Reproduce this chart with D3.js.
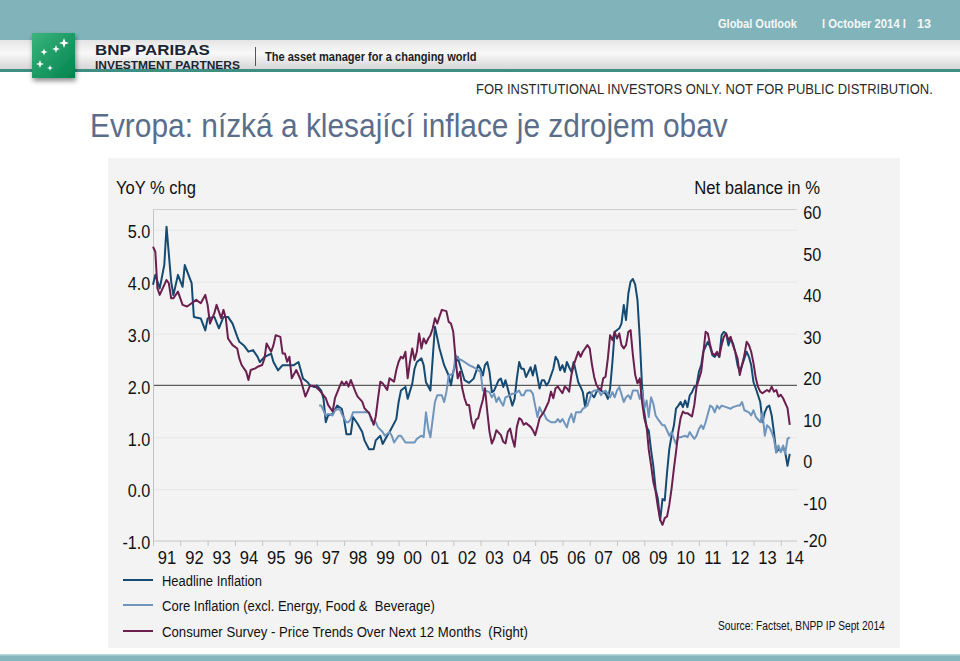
<!DOCTYPE html>
<html><head><meta charset="utf-8">
<script src="https://cdn.jsdelivr.net/npm/d3@7"></script>
<style>
body{margin:0;background:#fff;}
svg{display:block;font-family:"Liberation Sans",Arial,sans-serif;}
text{white-space:pre;}
</style></head><body>
<svg id="c" width="960" height="661"></svg>
<script>
// ---------------- DATA ----------------
const yearLabels = ["91","92","93","94","95","96","97","98","99","00","01","02","03","04","05","06","07","08","09","10","11","12","13","14"];
const leftTicks = [-1, 0, 1, 2, 3, 4, 5];
const rightTicks = [-20, -10, 0, 10, 20, 30, 40, 50, 60];
const seriesNames = ["Headline Inflation", "Core Inflation (excl. Energy, Food &  Beverage)", "Consumer Survey - Price Trends Over Next 12 Months  (Right)"];

const headline = [["1991-01",3.94],["1991-02",4.13],["1991-04",3.87],["1991-06",4.32],["1991-07",5.06],["1991-09",4.00],["1991-10",3.74],["1991-12",4.13],
["1992-02",3.90],["1992-03",4.32],["1992-06",3.97],["1992-07",3.32],["1992-10",3.29],["1992-12",3.06],["1993-01",3.29],["1993-04",3.32],["1993-06",3.10],
["1993-08",3.32],["1993-10",3.32],["1993-12",3.19],["1994-02",2.94],["1994-03",2.84],["1994-05",2.77],["1994-07",2.65],["1994-09",2.68],["1994-11",2.55],
["1994-12",2.45],["1995-02",2.55],["1995-05",2.61],["1995-06",2.45],["1995-08",2.29],["1995-10",2.39],["1996-03",2.39],["1996-05",2.45],["1996-07",2.13],
["1996-09",2.06],["1996-10",2.00],["1996-12",1.97],["1997-01",2.00],["1997-03",1.90],["1997-04",1.74],["1997-05",1.29],["1997-06",1.42],["1997-08",1.45],
["1997-10",1.61],["1997-12",1.55],["1998-01",1.35],["1998-02",1.06],["1998-04",1.06],["1998-05",1.39],["1998-07",1.26],["1998-09",1.10],["1998-10",0.94],
["1998-12",0.77],["1999-02",0.77],["1999-03",0.94],["1999-05",1.03],["1999-06",0.87],["1999-08",1.03],["1999-09",1.10],["1999-12",1.35],["2000-01",1.68],
["2000-02",1.90],["2000-04",1.97],["2000-05",1.74],["2000-07",2.03],["2000-08",2.32],["2000-09",2.45],["2000-11",2.52],["2000-12",2.39],["2001-01",2.06],
["2001-03",1.90],["2001-04",2.52],["2001-05",3.13],["2001-07",2.71],["2001-09",2.39],["2001-11",2.19],["2001-12",2.00],["2002-01",2.26],["2002-03",2.55],
["2002-04",2.39],["2002-06",2.10],["2002-08",2.05],["2002-10",2.13],["2002-11",2.26],["2002-12",2.39],["2003-01",2.32],["2003-02",2.19],["2003-03",2.39],
["2003-04",2.45],["2003-05",2.26],["2003-06",1.87],["2003-07",1.90],["2003-08",2.00],["2003-09",2.10],["2003-10",2.13],["2003-11",1.97],["2003-12",2.10],
["2004-02",1.77],["2004-03",1.61],["2004-04",1.74],["2004-05",2.13],["2004-06",2.45],["2004-07",2.32],["2004-08",2.32],["2004-09",2.16],["2004-11",2.35],
["2004-12",2.19],["2005-01",2.39],["2005-02",2.16],["2005-03",1.94],["2005-04",2.10],["2005-05",2.10],["2005-06",2.00],["2005-07",2.06],["2005-08",2.19],
["2005-09",2.32],["2005-10",2.55],["2005-11",2.48],["2005-12",2.29],["2006-01",2.39],["2006-02",2.26],["2006-03",2.45],["2006-04",2.35],["2006-05",2.26],
["2006-06",2.45],["2006-07",2.26],["2006-08",2.06],["2006-09",1.97],["2006-10",1.87],["2006-11",1.58],["2006-12",1.84],["2007-01",1.87],["2007-03",1.77],
["2007-04",1.87],["2007-05",1.94],["2007-06",1.90],["2007-08",1.84],["2007-09",1.74],["2007-10",1.94],["2007-11",2.45],["2007-12",3.03],["2008-02",3.10],
["2008-03",3.19],["2008-04",3.55],["2008-05",3.26],["2008-06",3.77],["2008-07",4.00],["2008-08",4.05],["2008-09",3.94],["2008-10",3.65],["2008-11",2.90],
["2008-12",2.00],["2009-01",1.48],["2009-02",1.19],["2009-03",1.13],["2009-04",0.75],["2009-05",0.45],["2009-06",0.00],["2009-07",-0.19],["2009-08",-0.60],
["2009-09",-0.19],["2009-10",-0.22],["2009-11",0.32],["2009-12",0.77],["2010-01",1.03],["2010-02",1.23],["2010-03",1.55],["2010-04",1.61],["2010-05",1.68],
["2010-06",1.58],["2010-07",1.71],["2010-08",1.58],["2010-09",1.81],["2010-10",1.87],["2010-11",1.97],["2010-12",2.00],["2011-01",2.26],["2011-02",2.39],
["2011-03",2.65],["2011-04",2.75],["2011-05",2.84],["2011-06",2.74],["2011-07",2.58],["2011-08",2.55],["2011-09",2.61],["2011-10",2.55],["2011-11",2.97],
["2011-12",3.03],["2012-01",3.00],["2012-02",2.77],["2012-03",2.90],["2012-04",2.81],["2012-05",2.65],["2012-06",2.39],["2012-07",2.26],["2012-09",2.52],
["2012-10",2.65],["2012-11",2.55],["2012-12",2.39],["2013-01",2.06],["2013-02",1.94],["2013-04",1.68],["2013-05",1.29],["2013-06",1.48],["2013-07",1.58],
["2013-08",1.61],["2013-09",1.42],["2013-10",1.10],["2013-11",0.71],["2013-12",0.77],["2014-01",0.74],["2014-02",0.81],["2014-03",0.71],["2014-04",0.45],
["2014-05",0.68]];

const core = [["1997-02",1.61],["1997-03",1.61],["1997-05",1.42],["1997-06",1.45],["1997-08",1.42],["1997-09",1.52],["1997-11",1.55],["1997-12",1.45],
["1998-02",1.29],["1998-03",1.29],["1998-04",1.35],["1998-05",1.48],["1998-07",1.48],["1998-10",1.48],["1998-12",1.48],["1999-01",1.32],["1999-03",1.29],
["1999-04",1.19],["1999-06",1.10],["1999-07",1.03],["1999-09",1.10],["1999-10",1.03],["1999-11",0.90],["2000-01",1.03],["2000-02",1.03],["2000-04",0.90],
["2000-06",0.90],["2000-08",0.90],["2000-09",0.97],["2000-11",1.03],["2000-12",1.00],["2001-01",1.48],["2001-02",1.16],["2001-03",1.00],["2001-04",1.35],
["2001-05",1.68],["2001-06",1.81],["2001-08",1.81],["2001-09",1.68],["2001-10",1.87],["2001-11",2.19],["2002-01",2.23],["2002-02",2.58],["2002-03",2.52],
["2002-05",2.48],["2002-06",2.45],["2002-08",2.39],["2002-10",2.35],["2002-11",2.32],["2003-01",2.26],["2003-02",1.90],["2003-03",1.90],["2003-05",1.87],
["2003-06",1.77],["2003-07",1.84],["2003-08",1.68],["2003-09",1.77],["2003-10",1.68],["2003-11",1.61],["2003-12",1.77],["2004-02",1.81],["2004-03",1.84],
["2004-04",1.84],["2004-06",1.90],["2004-07",1.81],["2004-08",1.81],["2004-09",1.90],["2004-11",1.90],["2004-12",1.84],["2005-01",1.61],["2005-02",1.39],
["2005-03",1.58],["2005-04",1.48],["2005-05",1.45],["2005-06",1.35],["2005-08",1.29],["2005-10",1.29],["2005-11",1.35],["2005-12",1.29],["2006-01",1.35],
["2006-03",1.19],["2006-04",1.35],["2006-05",1.45],["2006-06",1.29],["2006-07",1.48],["2006-09",1.48],["2006-10",1.55],["2006-12",1.61],["2007-01",1.74],
["2007-02",1.87],["2007-03",1.90],["2007-05",1.90],["2007-06",1.81],["2007-07",1.87],["2007-08",1.90],["2007-10",1.77],["2007-11",1.87],["2007-12",1.77],
["2008-01",1.90],["2008-02",1.97],["2008-04",1.68],["2008-05",1.77],["2008-06",1.81],["2008-07",1.74],["2008-08",1.90],["2008-09",1.90],["2008-10",1.90],
["2008-11",1.74],["2008-12",1.90],["2009-01",1.55],["2009-02",1.71],["2009-03",1.39],["2009-04",1.77],["2009-05",1.65],["2009-06",1.42],["2009-07",1.35],
["2009-08",1.29],["2009-09",1.23],["2009-10",1.23],["2009-11",1.13],["2009-12",1.03],["2010-01",1.10],["2010-02",0.97],["2010-03",0.87],["2010-04",1.00],
["2010-05",1.00],["2010-07",1.03],["2010-08",1.00],["2010-09",1.10],["2010-10",1.03],["2010-11",0.97],["2010-12",1.03],["2011-01",1.16],["2011-02",1.23],
["2011-03",1.16],["2011-04",1.29],["2011-05",1.45],["2011-06",1.61],["2011-07",1.58],["2011-08",1.48],["2011-09",1.61],["2011-10",1.55],["2011-11",1.61],
["2012-01",1.58],["2012-03",1.55],["2012-04",1.58],["2012-06",1.61],["2012-07",1.61],["2012-08",1.68],["2012-09",1.52],["2012-11",1.48],["2012-12",1.42],
["2013-01",1.52],["2013-02",1.39],["2013-04",1.29],["2013-05",1.48],["2013-06",1.03],["2013-07",1.23],["2013-08",1.19],["2013-09",1.10],["2013-10",0.97],
["2013-11",0.71],["2013-12",0.84],["2014-01",0.71],["2014-02",0.84],["2014-03",0.68],["2014-04",0.97],["2014-05",1.00]];

const consumer = [["1991-01",50.9],["1991-02",49.7],["1991-03",40.9],["1991-04",39.3],["1991-06",41.7],["1991-07",42.9],["1991-08",42.1],["1991-09",38.5],
["1991-10",38.5],["1991-12",40.1],["1992-02",36.9],["1992-04",36.5],["1992-06",37.3],["1992-08",38.1],["1992-10",37.3],["1992-12",39.3],["1993-01",36.9],
["1993-02",32.4],["1993-04",34.9],["1993-05",36.9],["1993-07",33.7],["1993-08",35.7],["1993-09",33.7],["1993-10",28.8],["1993-12",27.2],["1994-02",26.4],
["1994-03",24.0],["1994-04",22.4],["1994-06",20.8],["1994-07",18.8],["1994-08",21.2],["1994-10",21.6],["1994-11",22.0],["1995-01",22.4],["1995-02",24.0],
["1995-03",27.6],["1995-05",25.6],["1995-06",27.2],["1995-07",29.6],["1995-09",29.2],["1995-10",25.2],["1995-11",25.2],["1995-12",23.2],["1996-01",24.4],
["1996-02",19.2],["1996-04",21.2],["1996-06",18.8],["1996-08",14.8],["1996-10",17.4],["1996-12",17.4],["1997-02",16.4],["1997-05",14.4],["1997-06",12.8],
["1997-08",11.2],["1997-09",14.4],["1997-11",17.2],["1997-12",18.4],["1998-01",17.6],["1998-02",18.4],["1998-03",17.2],["1998-04",18.8],["1998-06",16.0],
["1998-07",14.8],["1998-09",13.6],["1998-10",12.0],["1998-12",10.8],["1999-01",9.6],["1999-02",8.0],["1999-03",10.0],["1999-04",14.4],["1999-05",18.4],
["1999-06",18.0],["1999-08",16.4],["1999-09",19.2],["1999-11",18.4],["1999-12",21.2],["2000-01",23.2],["2000-02",24.4],["2000-03",24.0],["2000-04",25.6],
["2000-05",19.2],["2000-06",23.2],["2000-07",26.4],["2000-08",23.6],["2000-09",25.6],["2000-10",30.0],["2000-11",26.4],["2000-12",28.8],["2001-01",27.6],
["2001-02",28.8],["2001-03",29.6],["2001-04",31.2],["2001-05",33.7],["2001-06",32.4],["2001-07",34.1],["2001-08",35.7],["2001-10",35.4],["2001-11",32.8],
["2001-12",32.4],["2002-01",30.4],["2002-02",24.0],["2002-03",19.2],["2002-04",20.8],["2002-05",16.8],["2002-06",14.4],["2002-07",12.8],["2002-08",12.8],
["2002-09",9.0],["2002-10",7.1],["2002-11",9.2],["2002-12",9.6],["2003-01",12.0],["2003-02",14.0],["2003-03",16.8],["2003-04",11.2],["2003-05",6.3],
["2003-06",3.5],["2003-07",4.7],["2003-08",6.7],["2003-10",5.5],["2003-11",3.9],["2003-12",3.5],["2004-01",6.3],["2004-02",7.1],["2004-03",4.7],
["2004-04",2.7],["2004-05",7.5],["2004-06",9.6],["2004-07",9.2],["2004-08",8.0],["2004-09",8.4],["2004-11",7.5],["2004-12",6.7],["2005-01",5.5],
["2005-02",7.5],["2005-03",9.6],["2005-04",10.4],["2005-05",11.2],["2005-06",12.4],["2005-07",13.6],["2005-08",16.0],["2005-09",14.4],["2005-10",16.8],
["2005-11",17.2],["2005-12",16.4],["2006-01",15.6],["2006-02",17.2],["2006-03",16.8],["2006-04",16.0],["2006-05",20.0],["2006-06",22.4],["2006-07",24.0],
["2006-08",25.6],["2006-09",24.4],["2006-10",25.6],["2006-12",27.2],["2007-01",26.4],["2007-02",22.4],["2007-03",19.6],["2007-04",17.6],["2007-05",16.8],
["2007-06",16.4],["2007-07",19.2],["2007-08",19.6],["2007-09",24.0],["2007-10",29.6],["2007-11",28.4],["2007-12",30.4],["2008-01",28.8],["2008-02",30.0],
["2008-03",27.2],["2008-04",26.4],["2008-05",27.2],["2008-06",30.4],["2008-07",30.8],["2008-08",24.8],["2008-09",20.0],["2008-10",18.0],["2008-11",19.2],
["2008-12",13.6],["2009-01",9.6],["2009-02",7.5],["2009-03",2.0],["2009-04",-1.7],["2009-05",-5.7],["2009-06",-8.1],["2009-07",-11.7],["2009-08",-14.9],
["2009-09",-16.1],["2009-10",-14.5],["2009-11",-14.1],["2009-12",-11.3],["2010-01",-7.3],["2010-02",-2.5],["2010-03",1.5],["2010-04",6.3],["2010-05",9.6],
["2010-06",11.2],["2010-07",10.8],["2010-08",10.8],["2010-09",10.4],["2010-10",10.0],["2010-11",12.8],["2010-12",17.2],["2011-02",20.8],["2011-03",25.2],
["2011-04",30.4],["2011-05",30.0],["2011-06",27.2],["2011-07",25.2],["2011-08",24.8],["2011-09",25.6],["2011-10",24.4],["2011-11",27.2],["2011-12",29.2],
["2012-01",30.0],["2012-02",28.4],["2012-03",29.2],["2012-04",27.2],["2012-05",25.6],["2012-06",24.0],["2012-07",20.0],["2012-08",22.4],["2012-09",24.8],
["2012-10",28.0],["2012-11",27.2],["2012-12",25.6],["2013-01",22.8],["2013-02",19.2],["2013-03",17.2],["2013-04",16.0],["2013-05",15.6],["2013-07",16.4],
["2013-08",16.0],["2013-09",17.2],["2013-10",16.0],["2013-11",16.4],["2013-12",14.8],["2014-01",15.2],["2014-02",14.4],["2014-04",12.0],["2014-05",8.0]];

// ---------------- DRAW ----------------
const svg = d3.select("#c");
const defs = svg.append("defs");
const parse = d3.timeParse("%Y-%m");
const colors = ["#154a72", "#6f95bd", "#6b1f4f"];

// header
const g1 = defs.append("linearGradient").attr("id","band").attr("x1",0).attr("y1",0).attr("x2",0).attr("y2",1);
g1.append("stop").attr("offset","0").attr("stop-color","#e4e4e4");
g1.append("stop").attr("offset","0.45").attr("stop-color","#f9f9f9");
g1.append("stop").attr("offset","1").attr("stop-color","#d6d6d6");
const g2 = defs.append("linearGradient").attr("id","logo").attr("x1",0).attr("y1",0).attr("x2",1).attr("y2",1);
g2.append("stop").attr("offset","0").attr("stop-color","#3cb47c");
g2.append("stop").attr("offset","1").attr("stop-color","#00834f");
const sh = defs.append("filter").attr("id","shadow").attr("x","-30%").attr("y","-30%").attr("width","160%").attr("height","170%");
sh.append("feDropShadow").attr("dx",1).attr("dy",3).attr("stdDeviation",2.5).attr("flood-color","#000").attr("flood-opacity",0.45);

svg.append("rect").attr("x",0).attr("y",0).attr("width",960).attr("height",40).attr("fill","#80b3ba");
svg.append("rect").attr("x",0).attr("y",40).attr("width",960).attr("height",29).attr("fill","url(#band)");
svg.append("rect").attr("x",0).attr("y",69).attr("width",960).attr("height",3).attr("fill","#3f8e82");

svg.append("rect").attr("x",32).attr("y",33).attr("width",43).attr("height",45).attr("fill","url(#logo)").attr("filter","url(#shadow)");
const star = "M0,-5 L1.3,-1.3 L5,0 L1.3,1.3 L0,5 L-1.3,1.3 L-5,0 L-1.3,-1.3Z";
[[64,43,1],[56,49,0.8],[44,52,0.7],[40,64,0.8],[50,68,0.6]].forEach(s=>{
  svg.append("path").attr("d",star).attr("fill","#fff").attr("transform",`translate(${s[0]},${s[1]}) scale(${s[2]})`);
});

// text helper: condenses a text to a target width with a horizontal scale
function txt(s, x, y, size, len, opts={}) {
  const t = svg.append("text").attr("x",0).attr("y",0).attr("font-size",size)
    .attr("fill",opts.fill||"#222").attr("font-weight",opts.weight||"normal")
    .attr("text-anchor",opts.anchor||"start").text(s);
  const natural = t.node().getComputedTextLength();
  const sx = len && natural ? len / natural : 1;
  t.attr("transform",`translate(${x},${y}) scale(${sx.toFixed(4)},1)`);
  return t;
}
txt("Global Outlook",718,28,13,79,{fill:"#f4f7f7",weight:"bold"});
txt("l October 2014 l",822,28,13,84,{fill:"#f4f7f7",weight:"bold"});
txt("13",917,28,13,14,{fill:"#f4f7f7",weight:"bold"});
txt("BNP PARIBAS",95,55,15,115,{fill:"#1a2533",weight:"bold"});
txt("INVESTMENT PARTNERS",95,68.5,11,145,{fill:"#1a2533",weight:"bold"});
svg.append("line").attr("x1",255.5).attr("x2",255.5).attr("y1",47).attr("y2",66).attr("stroke","#555");
txt("The asset manager for a changing world",265,61,13,212,{fill:"#1e1e1e",weight:"bold"});
txt("FOR INSTITUTIONAL INVESTORS ONLY. NOT FOR PUBLIC DISTRIBUTION.",476,94,15,457,{fill:"#2a2a2a"});
txt("Evropa: nízká a klesající inflace je zdrojem obav",90,137,33,638,{fill:"#5a6e8b"});

// panel
svg.append("rect").attr("x",108).attr("y",158).attr("width",792).attr("height",490).attr("fill","#f3f3f3");
svg.append("rect").attr("x",0).attr("y",654).attr("width",960).attr("height",7).attr("fill","#86b6bd");
svg.append("rect").attr("x",0).attr("y",654).attr("width",960).attr("height",1.5).attr("fill","#b9d6da");

const X0 = 153, X1 = 797, YT = 209, YB = 541;
const x = d3.scaleTime().domain([new Date(1991,0,1), new Date(2014,7,6)]).range([X0, X1]);
const yL = d3.scaleLinear().domain([-1, 5.4]).range([YB, YT]);
const yR = d3.scaleLinear().domain([-20, 60]).range([YB, YT]);

// gridlines
svg.append("g").selectAll("line").data(leftTicks.filter(d=>d!==-1 && d!==2)).join("line")
  .attr("x1",X0).attr("x2",X1).attr("y1",d=>yL(d)+0.5).attr("y2",d=>yL(d)+0.5).attr("stroke","#e6e6e6");
svg.append("line").attr("x1",X0).attr("x2",X1).attr("y1",YT+0.5).attr("y2",YT+0.5).attr("stroke","#cfcfcf");
svg.append("line").attr("x1",X0).attr("x2",X1).attr("y1",yL(2)).attr("y2",yL(2)).attr("stroke","#5c5c5c").attr("stroke-width",1.2);

// axes
const axL = svg.append("g").attr("transform",`translate(${X0},0)`)
  .call(d3.axisLeft(yL).tickValues(leftTicks).tickFormat(d=>d.toFixed(1)).tickSize(0).tickPadding(3));
axL.select(".domain").attr("stroke","#c4c4c4");
axL.selectAll("text").attr("font-size",18).attr("fill","#111").attr("font-family","Liberation Sans, Arial, sans-serif")
  .attr("y",2).attr("transform","scale(0.9,1)");

const axR = svg.append("g").attr("transform",`translate(${X1},0)`)
  .call(d3.axisRight(yR).tickValues(rightTicks).tickFormat(d=>String(d)).tickSize(0).tickPadding(7));
axR.select(".domain").remove();
axR.selectAll("text").attr("font-size",18).attr("fill","#111").attr("font-family","Liberation Sans, Arial, sans-serif")
  .attr("y",d=>d===-20?0:4).attr("transform","scale(0.9,1)");

const axB = svg.append("g").attr("transform",`translate(0,${YB})`)
  .call(d3.axisBottom(x).ticks(d3.timeYear.every(1)).tickFormat("").tickSize(5));
axB.select(".domain").attr("stroke","#c4c4c4").attr("d",`M${X0},0H${X1}`);
axB.selectAll(".tick line").attr("stroke","#c4c4c4");

const midYears = yearLabels.map((s,i)=>new Date(1991+i,6,1));
const axB2 = svg.append("g").attr("transform",`translate(0,${YB})`)
  .call(d3.axisBottom(x).tickValues(midYears).tickFormat((d,i)=>yearLabels[i]).tickSize(0));
axB2.select(".domain").remove();
axB2.selectAll("text").attr("font-size",18).attr("fill","#111").attr("font-family","Liberation Sans, Arial, sans-serif")
  .attr("y",23).attr("dy",null).attr("transform","scale(0.92,1)");

// lines
const lineL = d3.line().x(d=>x(parse(d[0]))).y(d=>yL(d[1]));
const lineR = d3.line().x(d=>x(parse(d[0]))).y(d=>yR(d[1]));
const plot = svg.append("g").attr("fill","none").attr("stroke-width",2).attr("stroke-linejoin","round");
plot.append("path").attr("d",lineL(headline)).attr("stroke",colors[0]);
plot.append("path").attr("d",lineL(core)).attr("stroke",colors[1]);
plot.append("path").attr("d",lineR(consumer)).attr("stroke",colors[2]);

// axis titles
txt("YoY % chg",116,194,18,80,{fill:"#111"});
txt("Net balance in %",820,194,18,126,{fill:"#111",anchor:"end"});

// legend
const legY = [580, 605, 631];
const legLen = [100, 273, 366];
const leg = svg.append("g");
seriesNames.forEach((n,i)=>{
  leg.append("line").attr("x1",123).attr("x2",153).attr("y1",legY[i]).attr("y2",legY[i]).attr("stroke",colors[i]).attr("stroke-width",2);
  txt(n,162,legY[i]+5.5,15,legLen[i],{fill:"#111"});
});
txt("Source: Factset, BNPP IP Sept 2014",718,630,12,167,{fill:"#111"});
</script>
</body></html>
